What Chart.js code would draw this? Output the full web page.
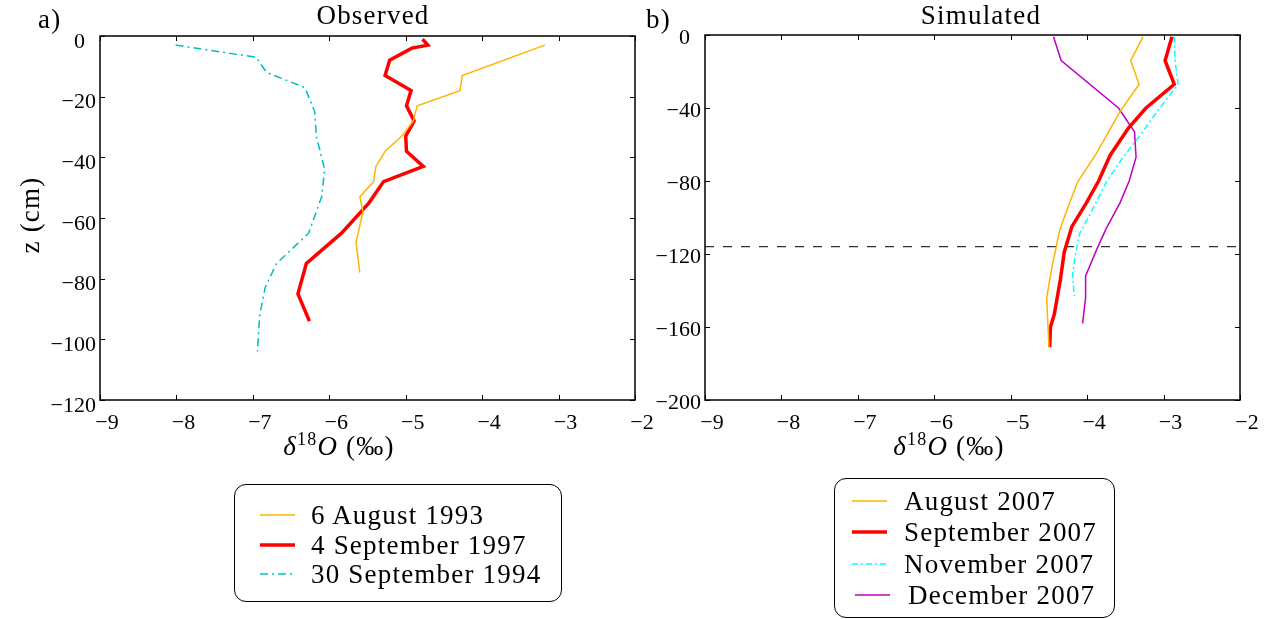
<!DOCTYPE html>
<html>
<head>
<meta charset="utf-8">
<script src="https://cdn.jsdelivr.net/npm/chart.js@4.4.1/dist/chart.umd.min.js"></script>
<style>
body { margin:0; background:#fff; width:1271px; height:619px; overflow:hidden; position:relative;
       font-family:'Liberation Serif', serif; color:#000; }
.abs { position:absolute; }
.txt { font-size:27px; letter-spacing:1.2px; white-space:nowrap; }
.legend { position:absolute; border:1.5px solid #000; border-radius:12px; box-sizing:border-box; background:#fff; }
.row { position:absolute; height:30px; line-height:30px; font-size:27px; letter-spacing:1.2px; white-space:nowrap; }
.row svg { position:absolute; top:12px; }
.row span { position:absolute; top:0; }
canvas { position:absolute; }
</style>
</head>
<body>

<canvas id="chartA" width="660" height="470" style="left:0;top:0"></canvas>
<canvas id="chartB" width="631" height="470" style="left:640px;top:0"></canvas>

<div class="abs txt" style="left:38px;top:4px;">a)</div>
<div class="abs txt" style="left:646px;top:4px;">b)</div>
<div class="abs txt" style="left:373px;top:0px;transform:translateX(-50%);">Observed</div>
<div class="abs txt" style="left:981px;top:0px;transform:translateX(-50%);">Simulated</div>
<div class="abs txt" style="left:30px;top:215px;transform:translate(-50%,-50%) rotate(-90deg);">z (cm)</div>
<div class="abs txt" style="left:339px;top:429px;transform:translateX(-50%);"><i>δ</i><sup style="font-size:18px">18</sup><i>O</i> (‰)</div>
<div class="abs txt" style="left:949px;top:429px;transform:translateX(-50%);"><i>δ</i><sup style="font-size:18px">18</sup><i>O</i> (‰)</div>

<div class="legend" id="legA" style="left:234px;top:484px;width:328px;height:118px;"></div>
<div class="legend" id="legB" style="left:834px;top:478px;width:281px;height:140px;"></div>

<script>
// ======================================
// DATOS - Observed
// ======================================
const aug93X = [-3.18, -4.26, -4.29, -4.85, -4.90, -5.05, -5.27, -5.39, -5.42, -5.60, -5.56, -5.65, -5.60];
const aug93Z = [-3, -13, -18, -23, -28, -33, -38, -43, -48, -53, -58, -68, -78];

const sep97X = [-4.78, -4.71, -4.92, -5.21, -5.27, -4.93, -4.99, -4.89, -5.00, -4.99, -4.77, -5.29, -5.48, -5.84, -6.30, -6.41, -6.26];
const sep97Z = [-1, -3, -4, -8, -13, -18, -23, -28, -33, -38, -43, -48, -55, -65, -75, -85, -94];

const sep94X = [-8.01, -6.96, -6.82, -6.32, -6.19, -6.17, -6.06, -6.10, -6.27, -6.69, -6.84, -6.91, -6.94];
const sep94Z = [-3, -7, -12, -17, -25, -33, -44, -53, -65, -75, -83, -92, -104];

// ======================================
// DATOS - Simulated
// ======================================
const aug07X = [-3.27, -3.43, -3.32, -3.57, -3.88, -4.13, -4.23, -4.36, -4.46, -4.53, -4.50];
const aug07Z = [-1, -14, -27, -42, -65, -81, -92, -107, -127, -144, -171];

const sep07X = [-2.89, -2.98, -2.86, -3.23, -3.46, -3.70, -3.85, -4.01, -4.20, -4.30, -4.35, -4.43, -4.48, -4.49];
const sep07Z = [-1, -14, -27, -40, -51, -66, -80, -92, -105, -119, -134, -153, -160, -171];

const nov07X = [-2.86, -2.85, -2.81, -3.05, -3.29, -3.53, -3.74, -3.96, -4.10, -4.16, -4.19, -4.17];
const nov07Z = [-1, -14, -27, -40, -54, -67, -80, -98, -109, -122, -131, -143];

const dec07X = [-4.44, -4.34, -3.59, -3.38, -3.36, -3.45, -3.57, -3.75, -3.88, -4.02, -4.02, -4.06];
const dec07Z = [-1, -14, -40, -53, -67, -80, -92, -106, -118, -132, -144, -158];

const limiteX = [-9, -2];
const limiteZ = [-116, -116];

// ticks
const ticksX = [-9, -8, -7, -6, -5, -4, -3, -2];
const ticksZobs = [0, -20, -40, -60, -80, -100, -120];
const ticksZsim = [0, -40, -80, -120, -160, -200];

const NARANJA = "rgb(255,180,0)";
const ROJO = "#ff0000";
const TEAL = "rgb(0,191,191)";
const CIAN = "#00ffff";
const MORADO = "rgb(191,0,191)";

const FUENTE = { family: "Liberation Serif", size: 22 };

function puntos(xs, zs) {
    return xs.map((x, i) => ({ x: x, y: zs[i] }));
}

function etiqueta(v) {
    if (v === 0) return "0\u2002";
    return v < 0 ? "\u2212" + Math.abs(v) : String(v);
}

Chart.defaults.font.family = "Liberation Serif";
Chart.defaults.font.size = 22;
Chart.defaults.color = "#000";

// ======================================
// CAJA + TICKS HACIA ADENTRO
// ======================================
const cajaPlugin = {
    id: "caja",
    afterDraw(chart) {
        const ctx = chart.ctx;
        const a = chart.chartArea;
        const sx = chart.scales.x, sy = chart.scales.y;
        ctx.save();
        ctx.strokeStyle = "#000";
        ctx.lineWidth = 1;
        sx.ticks.forEach(t => {
            const px = Math.round(sx.getPixelForValue(t.value)) + 0.5;
            ctx.beginPath();
            ctx.moveTo(px, a.bottom); ctx.lineTo(px, a.bottom - 5);
            ctx.moveTo(px, a.top); ctx.lineTo(px, a.top + 5);
            ctx.stroke();
        });
        sy.ticks.forEach(t => {
            const py = Math.round(sy.getPixelForValue(t.value)) + 0.5;
            ctx.beginPath();
            ctx.moveTo(a.left, py); ctx.lineTo(a.left + 5, py);
            ctx.moveTo(a.right, py); ctx.lineTo(a.right - 5, py);
            ctx.stroke();
        });
        ctx.lineWidth = 1.5;
        ctx.strokeRect(a.left, a.top, a.right - a.left, a.bottom - a.top);
        ctx.restore();
    }
};

function serie(label, xs, zs, color, ancho, dash) {
    return {
        label: label,
        data: puntos(xs, zs),
        borderColor: color,
        borderWidth: ancho,
        borderDash: dash || [],
        pointRadius: 0,
        fill: false,
        tension: 0
    };
}

function opciones(zMin, ticksZ, yAncho, padTop, padRight, offY) {
    return {
        responsive: false,
        animation: false,
        layout: { padding: { top: padTop, right: padRight, left: 0, bottom: 0 } },
        plugins: { legend: { display: false }, tooltip: { enabled: false } },
        scales: {
            x: {
                type: "linear", min: -9, max: -2,
                afterBuildTicks: s => { s.ticks = ticksX.map(v => ({ value: v })); },
                ticks: { callback: etiqueta, padding: 10, labelOffset: 7, maxRotation: 0, font: FUENTE, color: "#000" },
                grid: { display: false, drawTicks: false },
                border: { display: false },
                afterFit: s => { s.height = 70; }
            },
            y: {
                type: "linear", min: zMin, max: 0,
                afterBuildTicks: s => { s.ticks = ticksZ.map(v => ({ value: v })); },
                ticks: { callback: etiqueta, padding: 4, labelOffset: offY, font: FUENTE, color: "#000" },
                grid: { display: false, drawTicks: false },
                border: { display: false },
                afterFit: s => { s.width = yAncho; }
            }
        }
    };
}

function dibujar() {

// ======================================
// GRAFICO a) Observed
// ======================================
new Chart(document.getElementById("chartA"), {
    type: "line",
    data: {
        datasets: [
            serie("6 August 1993", aug93X, aug93Z, NARANJA, 1.5),
            serie("4 September 1997", sep97X, sep97Z, ROJO, 3.5),
            serie("30 September 1994", sep94X, sep94Z, TEAL, 1.5, [8, 4, 2, 4])
        ]
    },
    options: opciones(-120, ticksZobs, 100, 36, 25, 6),
    plugins: [cajaPlugin]
});

// ======================================
// GRAFICO b) Simulated
// ======================================
new Chart(document.getElementById("chartB"), {
    type: "line",
    data: {
        datasets: [
            serie("August 2007", aug07X, aug07Z, NARANJA, 1.5),
            serie("September 2007", sep07X, sep07Z, ROJO, 3.5),
            serie("November 2007", nov07X, nov07Z, CIAN, 1.5, [6, 3, 2, 3]),
            serie("December 2007", dec07X, dec07Z, MORADO, 1.5),
            serie("limite", limiteX, limiteZ, "#000", 1, [9, 9])
        ]
    },
    options: opciones(-200, ticksZsim, 65, 35, 31, 3),
    plugins: [cajaPlugin]
});

}

// ======================================
// LEYENDAS
// ======================================
function leyenda(id, items) {
    const caja = document.getElementById(id);
    items.forEach(it => {
        const fila = document.createElement("div");
        fila.className = "row";
        fila.style.left = "0px";
        fila.style.top = (it.cy - 15) + "px";
        fila.innerHTML = `
            <svg width="40" height="6" style="left:${it.sx}px">
              <line x1="0" y1="3" x2="35" y2="3" stroke="${it.color}" stroke-width="${it.ancho}"
                    stroke-dasharray="${it.dash || ""}"/>
            </svg>
            <span style="left:${it.tx}px">${it.texto}</span>`;
        caja.appendChild(fila);
    });
}

leyenda("legA", [
    { texto: "6 August 1993", color: NARANJA, ancho: 1.5, cy: 30, sx: 25, tx: 76 },
    { texto: "4 September 1997", color: ROJO, ancho: 3.5, cy: 60, sx: 25, tx: 76 },
    { texto: "30 September 1994", color: TEAL, ancho: 1.5, dash: "8 4 2 4", cy: 89, sx: 25, tx: 76 }
]);

leyenda("legB", [
    { texto: "August 2007", color: NARANJA, ancho: 1.5, cy: 22, sx: 17, tx: 69 },
    { texto: "September 2007", color: ROJO, ancho: 3.5, cy: 53, sx: 17, tx: 69 },
    { texto: "November 2007", color: CIAN, ancho: 1.5, dash: "6 3 2 3", cy: 85, sx: 17, tx: 69 },
    { texto: "December 2007", color: MORADO, ancho: 1.5, cy: 116, sx: 20, tx: 73 }
]);

// ======================================
// INICIALIZAR
// ======================================
document.fonts.load("22px 'Liberation Serif'").then(dibujar, dibujar);
</script>
</body>
</html>
